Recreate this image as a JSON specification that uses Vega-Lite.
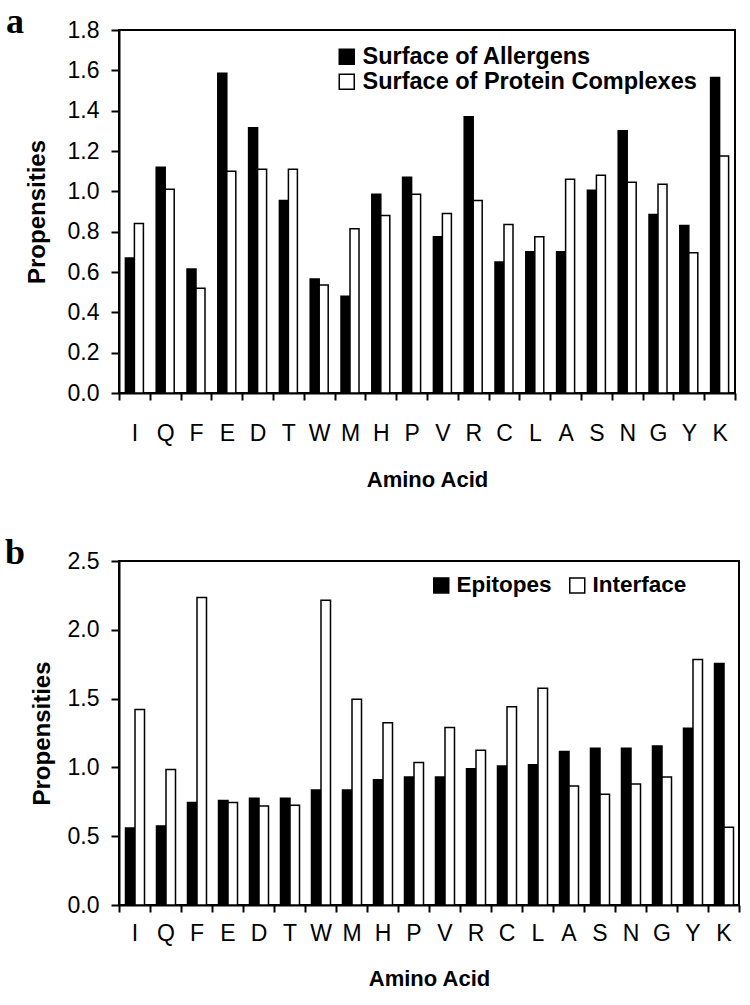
{
  "$schema": "https://vega.github.io/schema/vega-lite/v6.json",
  "background": "white",
  "padding": {"left": 4, "top": 3, "right": 5, "bottom": 5},
  "spacing": 43,
  "config": {
    "view": {"stroke": "black", "strokeWidth": 2},
    "font": "Liberation Sans",
    "axis": {"domainColor": "black", "domainWidth": 2, "tickColor": "black", "tickWidth": 2, "tickSize": 7, "labelColor": "black", "titleColor": "black", "grid": false, "labelFont": "Liberation Sans", "titleFont": "Liberation Sans"},
    "legend": {"labelFont": "Liberation Sans", "labelColor": "black"}
  },
  "resolve": {"scale": {"color": "independent"}, "legend": {"color": "independent"}},
  "vconcat": [
    {
      "width": 616,
      "height": 363,
      "title": {"text": "a", "anchor": "start", "frame": "bounds", "font": "Liberation Serif", "fontSize": 36, "fontWeight": "bold", "color": "black", "dx": -19, "offset": -22},
      "data": {"values": [
        {"aa": "I", "series": "Surface of Allergens", "value": 0.67},
        {"aa": "I", "series": "Surface of Protein Complexes", "value": 0.84},
        {"aa": "Q", "series": "Surface of Allergens", "value": 1.12},
        {"aa": "Q", "series": "Surface of Protein Complexes", "value": 1.01},
        {"aa": "F", "series": "Surface of Allergens", "value": 0.615},
        {"aa": "F", "series": "Surface of Protein Complexes", "value": 0.52},
        {"aa": "E", "series": "Surface of Allergens", "value": 1.585},
        {"aa": "E", "series": "Surface of Protein Complexes", "value": 1.10},
        {"aa": "D", "series": "Surface of Allergens", "value": 1.315},
        {"aa": "D", "series": "Surface of Protein Complexes", "value": 1.11},
        {"aa": "T", "series": "Surface of Allergens", "value": 0.955},
        {"aa": "T", "series": "Surface of Protein Complexes", "value": 1.11},
        {"aa": "W", "series": "Surface of Allergens", "value": 0.565},
        {"aa": "W", "series": "Surface of Protein Complexes", "value": 0.535},
        {"aa": "M", "series": "Surface of Allergens", "value": 0.48},
        {"aa": "M", "series": "Surface of Protein Complexes", "value": 0.815},
        {"aa": "H", "series": "Surface of Allergens", "value": 0.985},
        {"aa": "H", "series": "Surface of Protein Complexes", "value": 0.88},
        {"aa": "P", "series": "Surface of Allergens", "value": 1.07},
        {"aa": "P", "series": "Surface of Protein Complexes", "value": 0.985},
        {"aa": "V", "series": "Surface of Allergens", "value": 0.775},
        {"aa": "V", "series": "Surface of Protein Complexes", "value": 0.89},
        {"aa": "R", "series": "Surface of Allergens", "value": 1.37},
        {"aa": "R", "series": "Surface of Protein Complexes", "value": 0.955},
        {"aa": "C", "series": "Surface of Allergens", "value": 0.65},
        {"aa": "C", "series": "Surface of Protein Complexes", "value": 0.835},
        {"aa": "L", "series": "Surface of Allergens", "value": 0.70},
        {"aa": "L", "series": "Surface of Protein Complexes", "value": 0.775},
        {"aa": "A", "series": "Surface of Allergens", "value": 0.70},
        {"aa": "A", "series": "Surface of Protein Complexes", "value": 1.06},
        {"aa": "S", "series": "Surface of Allergens", "value": 1.005},
        {"aa": "S", "series": "Surface of Protein Complexes", "value": 1.08},
        {"aa": "N", "series": "Surface of Allergens", "value": 1.30},
        {"aa": "N", "series": "Surface of Protein Complexes", "value": 1.045},
        {"aa": "G", "series": "Surface of Allergens", "value": 0.885},
        {"aa": "G", "series": "Surface of Protein Complexes", "value": 1.035},
        {"aa": "Y", "series": "Surface of Allergens", "value": 0.83},
        {"aa": "Y", "series": "Surface of Protein Complexes", "value": 0.695},
        {"aa": "K", "series": "Surface of Allergens", "value": 1.565},
        {"aa": "K", "series": "Surface of Protein Complexes", "value": 1.175}
      ]},
      "encoding": {
        "x": {"field": "aa", "type": "nominal", "sort": null, "scale": {"paddingInner": 0, "paddingOuter": 0},
          "axis": {"title": "Amino Acid", "labelAngle": 0, "tickBand": "extent", "labelFontSize": 23, "labelPadding": 22, "titleFontSize": 22, "titleFontWeight": "bold", "titlePadding": 24}},
        "y": {"field": "value", "type": "quantitative", "scale": {"domain": [0, 1.8], "nice": false},
          "axis": {"values": [0, 0.2, 0.4, 0.6, 0.8, 1.0, 1.2, 1.4, 1.6, 1.8], "format": ".1f", "title": "Propensities", "labelFontSize": 23, "labelPadding": 12, "tickSize": 8, "titleFontSize": 24, "titleFontWeight": "bold", "titlePadding": 18}},
        "color": {"field": "series", "type": "nominal", "sort": null,
          "scale": {"domain": ["Surface of Allergens", "Surface of Protein Complexes"], "range": ["black", "white"]},
          "legend": {"title": null, "orient": "none", "legendX": 216, "legendY": 15, "symbolType": "square", "symbolSize": 225, "symbolStrokeColor": "black", "symbolStrokeWidth": 1.5, "labelFontSize": 23.5, "labelFontWeight": "bold", "labelLimit": 500, "rowPadding": 0, "labelOffset": 4}}
      },
      "layer": [
        {"transform": [{"filter": "datum.series === 'Surface of Allergens'"}],
         "mark": {"type": "bar", "stroke": "black", "strokeWidth": 1.5, "width": 9, "xOffset": -4.5}},
        {"transform": [{"filter": "datum.series === 'Surface of Protein Complexes'"}],
         "mark": {"type": "bar", "stroke": "black", "strokeWidth": 1.5, "width": 9, "xOffset": 4.5}}
      ]
    },
    {
      "width": 620,
      "height": 344,
      "title": {"text": "b", "anchor": "start", "frame": "bounds", "font": "Liberation Serif", "fontSize": 36, "fontWeight": "bold", "color": "black", "dx": -25, "offset": -22},
      "data": {"values": [
        {"aa": "I", "set": "Epitopes", "value": 0.56},
        {"aa": "I", "set": "Interface", "value": 1.42},
        {"aa": "Q", "set": "Epitopes", "value": 0.575},
        {"aa": "Q", "set": "Interface", "value": 0.985},
        {"aa": "F", "set": "Epitopes", "value": 0.745},
        {"aa": "F", "set": "Interface", "value": 2.235},
        {"aa": "E", "set": "Epitopes", "value": 0.76},
        {"aa": "E", "set": "Interface", "value": 0.745},
        {"aa": "D", "set": "Epitopes", "value": 0.775},
        {"aa": "D", "set": "Interface", "value": 0.72},
        {"aa": "T", "set": "Epitopes", "value": 0.775},
        {"aa": "T", "set": "Interface", "value": 0.725},
        {"aa": "W", "set": "Epitopes", "value": 0.835},
        {"aa": "W", "set": "Interface", "value": 2.215},
        {"aa": "M", "set": "Epitopes", "value": 0.835},
        {"aa": "M", "set": "Interface", "value": 1.495},
        {"aa": "H", "set": "Epitopes", "value": 0.91},
        {"aa": "H", "set": "Interface", "value": 1.325},
        {"aa": "P", "set": "Epitopes", "value": 0.93},
        {"aa": "P", "set": "Interface", "value": 1.035},
        {"aa": "V", "set": "Epitopes", "value": 0.93},
        {"aa": "V", "set": "Interface", "value": 1.29},
        {"aa": "R", "set": "Epitopes", "value": 0.99},
        {"aa": "R", "set": "Interface", "value": 1.125},
        {"aa": "C", "set": "Epitopes", "value": 1.01},
        {"aa": "C", "set": "Interface", "value": 1.44},
        {"aa": "L", "set": "Epitopes", "value": 1.02},
        {"aa": "L", "set": "Interface", "value": 1.575},
        {"aa": "A", "set": "Epitopes", "value": 1.115},
        {"aa": "A", "set": "Interface", "value": 0.865},
        {"aa": "S", "set": "Epitopes", "value": 1.14},
        {"aa": "S", "set": "Interface", "value": 0.805},
        {"aa": "N", "set": "Epitopes", "value": 1.14},
        {"aa": "N", "set": "Interface", "value": 0.88},
        {"aa": "G", "set": "Epitopes", "value": 1.155},
        {"aa": "G", "set": "Interface", "value": 0.93},
        {"aa": "Y", "set": "Epitopes", "value": 1.285},
        {"aa": "Y", "set": "Interface", "value": 1.785},
        {"aa": "K", "set": "Epitopes", "value": 1.755},
        {"aa": "K", "set": "Interface", "value": 0.565}
      ]},
      "encoding": {
        "x": {"field": "aa", "type": "nominal", "sort": null, "scale": {"paddingInner": 0, "paddingOuter": 0},
          "axis": {"title": "Amino Acid", "labelAngle": 0, "tickBand": "extent", "labelFontSize": 23, "labelPadding": 10, "titleFontSize": 22, "titleFontWeight": "bold", "titlePadding": 23}},
        "y": {"field": "value", "type": "quantitative", "scale": {"domain": [0, 2.5], "nice": false},
          "axis": {"values": [0, 0.5, 1.0, 1.5, 2.0, 2.5], "format": ".1f", "title": "Propensities", "labelFontSize": 23, "labelPadding": 12, "tickSize": 8, "titleFontSize": 24, "titleFontWeight": "bold", "titlePadding": 13}},
        "color": {"field": "set", "type": "nominal", "sort": null,
          "scale": {"domain": ["Epitopes", "Interface"], "range": ["black", "white"]},
          "legend": {"title": null, "orient": "none", "direction": "horizontal", "legendX": 311, "legendY": 13, "symbolType": "square", "symbolSize": 225, "symbolStrokeColor": "black", "symbolStrokeWidth": 1.5, "labelFontSize": 22.5, "labelFontWeight": "bold", "labelLimit": 500, "columnPadding": 14, "labelOffset": 4}}
      },
      "layer": [
        {"transform": [{"filter": "datum.set === 'Epitopes'"}],
         "mark": {"type": "bar", "stroke": "black", "strokeWidth": 1.5, "width": 9.5, "xOffset": -4.25}},
        {"transform": [{"filter": "datum.set === 'Interface'"}],
         "mark": {"type": "bar", "stroke": "black", "strokeWidth": 1.5, "width": 9.5, "xOffset": 5.25}}
      ]
    }
  ]
}
